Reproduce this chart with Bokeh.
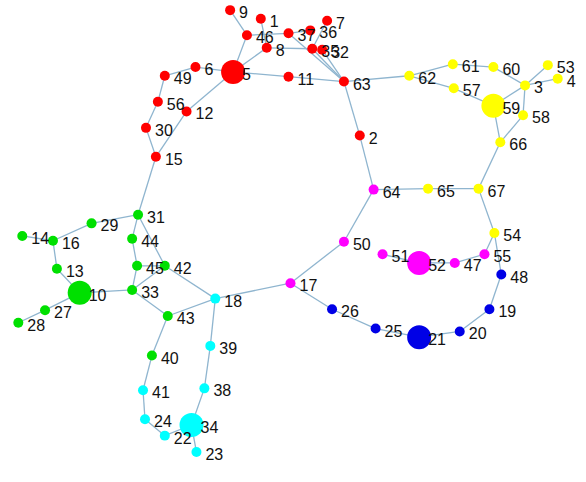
from bokeh.plotting import figure
from bokeh.models import Range1d, ColumnDataSource
from bokeh.core.properties import value
from bokeh.embed import file_html
from bokeh.resources import INLINE

# node ids, layout positions (screen-like units, y downward), community and hub flag
node_id = [9, 1, 46, 37, 36, 7, 8, 35, 32, 5, 11, 63, 6, 49, 56, 12, 30, 15, 2,
           62, 61, 60, 57, 3, 53, 4, 59, 58, 66, 65, 67, 54,
           64, 50, 51, 52, 47, 55, 17,
           48, 19, 20, 21, 25, 26,
           31, 29, 14, 16, 44, 13, 45, 42, 33, 10, 27, 28, 43, 40,
           18, 39, 38, 41, 24, 34, 22, 23]
node_x = [232, 263, 249, 291, 313, 330, 269, 315, 325, 235, 291, 347, 197, 166, 159, 188, 147, 157, 363,
          413, 457, 498, 458, 530, 553, 563, 498, 528, 505, 432, 483, 499,
          377, 347, 386, 423, 459, 489, 293,
          506, 494, 464, 423, 379, 335,
          139, 92, 22, 53, 133, 57, 138, 166, 133, 80, 45, 18, 169, 153,
          217, 212, 206, 144, 146, 193, 166, 198]
node_y = [12, 21, 38, 36, 33, 23, 51, 52, 53, 76, 81, 86, 71, 80, 107, 117, 134, 164, 142,
          80, 68, 71, 93, 90, 69, 83, 111, 121, 149, 197, 197, 243,
          198, 252, 265, 274, 274, 265, 295,
          286, 322, 345, 351, 342, 322,
          224, 233, 246, 251, 249, 280, 277, 277, 302, 305, 323, 336, 329, 370,
          311, 360, 404, 406, 436, 442, 453, 470]
node_group = (["red"] * 19 + ["yellow"] * 13 + ["magenta"] * 7 + ["blue"] * 6 +
              ["green"] * 14 + ["cyan"] * 8)
hubs = [5, 59, 52, 21, 10, 34]

edge_src = [9, 1, 46, 46, 37, 36, 7, 5, 8, 35, 32, 5, 6, 49, 56, 30, 15, 12, 5, 11,
            15, 63, 63, 2,
            62, 62, 61, 60, 57, 59, 3, 3, 3, 58, 59, 66,
            64, 65, 67, 54, 54, 47, 52, 51, 64, 50, 17, 17, 26, 25, 21, 20, 19,
            31, 29, 16, 16, 13, 10, 27, 10, 31, 44, 45, 31, 45, 33, 42, 33, 43, 43,
            40, 41, 24, 22, 34, 34, 38, 39]
edge_dst = [46, 8, 5, 37, 63, 37, 35, 8, 35, 63, 63, 6, 49, 56, 30, 15, 12, 5, 11, 63,
            31, 62, 2, 64,
            61, 57, 60, 3, 59, 3, 53, 4, 58, 66, 66, 67,
            65, 67, 54, 55, 48, 55, 47, 52, 50, 17, 18, 26, 25, 21, 20, 19, 48,
            29, 16, 14, 13, 10, 27, 28, 33, 44, 45, 33, 42, 42, 42, 18, 43, 18, 40,
            41, 24, 22, 34, 23, 38, 39, 18]

palette = {"red": "#FF0000", "yellow": "#FFFF00", "magenta": "#FF00FF",
           "blue": "#0000E6", "green": "#00E000", "cyan": "#00FFFF"}

pos = {n: (x, y) for n, x, y in zip(node_id, node_x, node_y)}

p = figure(width=578, height=466, output_backend="svg", toolbar_location=None,
           x_range=Range1d(0, 584), y_range=Range1d(485, 2),
           min_border=0, outline_line_color=None)
p.axis.visible = False
p.grid.visible = False

p.segment(x0=[pos[s][0] for s in edge_src], y0=[pos[s][1] for s in edge_src],
          x1=[pos[t][0] for t in edge_dst], y1=[pos[t][1] for t in edge_dst],
          line_color="#8FB5CF", line_width=1.3)

src = ColumnDataSource(dict(
    x=node_x, y=node_y, label=[str(n) for n in node_id],
    color=[palette[g] for g in node_group],
    size=[24 if n in hubs else 10 for n in node_id]))
p.scatter("x", "y", size="size", fill_color="color", line_color=None, source=src)
p.text("x", "y", text="label", source=src, x_offset=9, y_offset=2,
       text_baseline="middle", text_align="left", text_color="#111111",
       text_font=value("Liberation Sans"), text_font_size="16px")

open("out.html", "w").write(file_html(p, INLINE))
